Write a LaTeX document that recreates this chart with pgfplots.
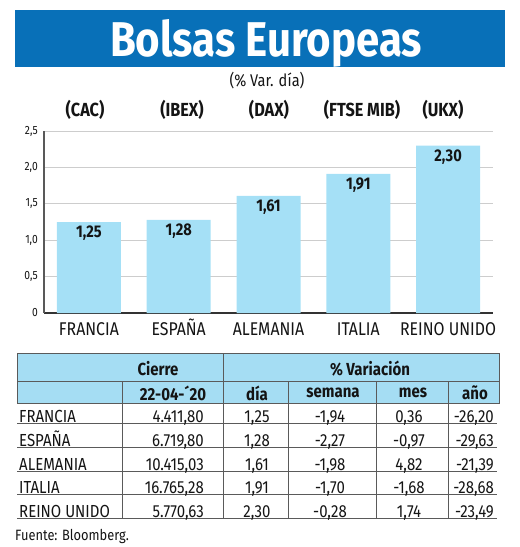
\documentclass[border=0pt]{standalone}
\usepackage{fontspec}
\setmainfont{Fira Sans}
\newfontfamily\cond[FakeStretch=0.86]{Fira Sans}
\usepackage{pgfplots}
\pgfplotsset{compat=1.18}
\definecolor{banner}{RGB}{8,112,184}
\definecolor{barc}{RGB}{165,224,246}
\definecolor{hdr}{RGB}{165,221,243}
\definecolor{gridc}{RGB}{205,205,205}
\definecolor{txt}{RGB}{20,20,20}
\definecolor{linec}{RGB}{90,90,90}
\pgfplotstableread{
x y lab
0 1.25 1,25
1 1.28 1,28
2 1.61 1,61
3 1.91 1,91
4 2.30 2,30
}\bars
\newcommand\dfont{\cond\fontsize{17.5}{17.5}\selectfont}
\newcommand\datarow[8]{%
  \draw[linec, line width=0.8] (17,#2) -- (497,#2);
  \node[txt, anchor=base west, inner sep=0, font=\dfont] at (19,#1) {#3};
  \node[txt, anchor=base east, inner sep=0, font=\dfont] at (204,#1) {#4};
  \node[txt, anchor=base, inner sep=0, font=\dfont] at (257,#1) {#5};
  \node[txt, anchor=base, inner sep=0, font=\dfont] at (330,#1) {#6};
  \node[txt, anchor=base, inner sep=0, font=\dfont] at (409,#1) {#7};
  \node[txt, anchor=base east, inner sep=0, font=\dfont] at (494,#1) {#8};
}
\begin{document}
\begin{tikzpicture}
\path[use as bounding box] (0,0) rectangle (520bp,-547bp);
\begin{scope}[x=1bp,y=-1bp]
% banner
\fill[banner] (15,10) rectangle (505,67);
\node[white, anchor=base, inner sep=0, font=\cond\fontsize{49}{49}\selectfont\bfseries] at (266,56) {Bolsas Europeas};
\node[txt, font=\cond\fontsize{17}{17}\selectfont] at (267,81) {(\% Var. día)};
% index labels
\node[txt, font=\cond\fontsize{19}{19}\selectfont\bfseries] at (85,110) {(CAC)};
\node[txt, font=\cond\fontsize{19}{19}\selectfont\bfseries] at (182,110) {(IBEX)};
\node[txt, font=\cond\fontsize{19}{19}\selectfont\bfseries] at (269,110) {(DAX)};
\node[txt, font=\cond\fontsize{19}{19}\selectfont\bfseries] at (362,110) {(FTSE MIB)};
\node[txt, font=\cond\fontsize{19}{19}\selectfont\bfseries] at (443,110) {(UKX)};
% table header
\fill[hdr] (17,353) rectangle (499,403);
\draw[linec, line width=0.8] (17,353) rectangle (499,403);
\draw[linec, line width=0.8] (17,381) -- (499,381);
\draw[linec, line width=0.8] (223,353) -- (223,381);
\foreach \xx in {122,223,288,376,448}
  \draw[linec, line width=0.8] (\xx,381) -- (\xx,518);
\begin{scope}[every node/.style={txt, font=\cond\fontsize{17.5}{17.5}\selectfont\bfseries}]
\node at (158,369) {Cierre};
\node at (370,369) {\% Variación};
\node at (173,393) {22-04-´20};
\node at (257,393) {día};
\node at (333,393) {semana};
\node at (413,393) {mes};
\node at (475,393) {año};
\end{scope}
% data rows
\datarow{422.5}{423.5}{FRANCIA}{4.411,80}{1,25}{-1,94}{0,36}{-26,20}
\datarow{446}{447}{ESPAÑA}{6.719,80}{1,28}{-2,27}{-0,97}{-29,63}
\datarow{470}{471}{ALEMANIA}{10.415,03}{1,61}{-1,98}{4,82}{-21,39}
\datarow{493.5}{494.5}{ITALIA}{16.765,28}{1,91}{-1,70}{-1,68}{-28,68}
\datarow{517}{518}{REINO UNIDO}{5.770,63}{2,30}{-0,28}{1,74}{-23,49}
\node[txt, anchor=base west, inner sep=0, font=\cond\fontsize{15}{15}\selectfont] at (15,540) {Fuente: Bloomberg.};
\end{scope}
\begin{axis}[
  at={(44bp,-313bp)}, anchor=south west,
  scale only axis, width=449bp, height=182bp,
  xmin=-0.5, xmax=4.5, ymin=0, ymax=2.5,
  axis x line*=bottom, axis y line*=left,
  axis line style={-},
  x axis line style={draw=black!80, line width=1.2bp},
  y axis line style={draw=black!65, line width=1.2bp},
  ymajorgrids, grid style={gridc, line width=0.9bp},
  ytick={0,0.5,1,1.5,2,2.5},
  yticklabels={0,{0,5},{1,0},{1,5},{2,0},{2,5}},
  xtick={0,1,2,3,4},
  xticklabels={FRANCIA,ESPAÑA,ALEMANIA,ITALIA,REINO UNIDO},
  major tick length=0pt,
  yticklabel style={font=\cond\fontsize{12}{12}\selectfont, text=txt, anchor=east, inner sep=0pt, xshift=-6bp},
  xticklabel style={font=\cond\fontsize{18.5}{18.5}\selectfont, text=txt, anchor=base, yshift=-22bp},
  ybar, bar width=64bp,
  nodes near coords, point meta=explicit symbolic,
  every node near coord/.style={anchor=north, inner sep=0pt, yshift=-4bp, font=\cond\fontsize{17}{17}\selectfont\bfseries, text=txt},
]
\addplot[fill=barc, draw=none] table[x=x, y=y, meta=lab]{\bars};
\end{axis}
\end{tikzpicture}
\end{document}
